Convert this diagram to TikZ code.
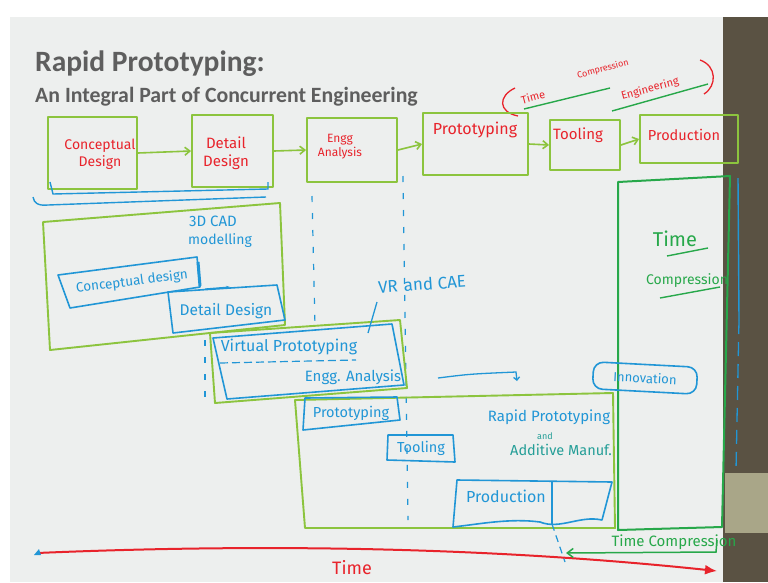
\documentclass[tikz,border=0pt]{standalone}
\usepackage{fontspec}
\setmainfont{Carlito}
\newfontfamily\hand{Fira Sans}
\usetikzlibrary{arrows.meta}

\definecolor{slidebg}{HTML}{EDEFEE}
\definecolor{titlegray}{HTML}{5E5E5E}
\definecolor{lgreen}{HTML}{8CC43E}
\definecolor{dgreen}{HTML}{27A84A}
\definecolor{pen}{HTML}{2196D6}
\definecolor{redpen}{HTML}{E8232B}
\definecolor{strip}{HTML}{5A5243}
\definecolor{stripl}{HTML}{A9A688}

\newcommand{\hs}[1]{\hand\fontsize{#1}{#1}\selectfont}

\tikzset{
  gbox/.style={draw=lgreen, line width=1.9pt, line join=round},
  dbox/.style={draw=dgreen, line width=2pt, line join=round},
  bbox/.style={draw=pen, line width=1.6pt, line join=round},
  garrow/.style={draw=lgreen, line width=1.6pt, -{Straight Barb[length=5pt,width=8pt]}},
  redtxt/.style={text=redpen, font=\hs{14}, inner sep=0pt, align=center},
  bluetxt/.style={text=pen, font=\hs{14}, inner sep=0pt, align=center},
  greentxt/.style={text=dgreen, font=\hs{14}, inner sep=0pt, align=center},
  guide/.style={draw=pen, line width=1.2pt, dash pattern=on 6pt off 11pt},
}

\begin{document}
\begin{tikzpicture}[x=1pt,y=-1pt]
\useasboundingbox (0,0) rectangle (768,582);
% screen background, slide and projector edge
\fill[white] (0,0) rectangle (768,582);
\fill[slidebg] (10,17) rectangle (723,582);
\fill[strip] (723,17) rectangle (768,582);
\fill[stripl] (725,473) rectangle (768,533);

% title block
\node[anchor=base west, inner sep=0pt, text=titlegray,
      font=\bfseries\fontsize{29.5}{32}\selectfont] (title) at (35,71) {Rapid Prototyping:};
\node[anchor=base west, inner sep=0pt, text=titlegray,
      font=\bfseries\fontsize{21.8}{24}\selectfont] (subtitle) at (35,102) {An Integral Part of Concurrent Engineering};

% handwritten remark next to the subtitle
\draw[redpen, line width=1.3pt] (515,88) .. controls (498,96) and (498,112) .. (518,116);
\node[redtxt, font=\hs{11}, rotate=15] (rm1) at (533,97) {Time};
\node[redtxt, font=\hs{9}, rotate=15] (rm2) at (603,69) {Compression};
\node[redtxt, font=\hs{11}, rotate=15] (rm3) at (650,89) {Engineering};
\draw[redpen, line width=1.3pt] (700,60) .. controls (717,66) and (717,86) .. (704,94);
\draw[dgreen, line width=1.4pt] (524,109) -- (610,88);
\draw[dgreen, line width=1.4pt] (612,111) -- (708,84);

% sequential process chain
\node[gbox, minimum width=89, minimum height=72] (cd) at (92.5,153) {};
\node[gbox, minimum width=81, minimum height=72] (dd) at (232.5,151) {};
\node[gbox, minimum width=90, minimum height=64] (ea) at (352,150) {};
\node[gbox, minimum width=105, minimum height=62] (pr) at (475.5,144) {};
\node[gbox, minimum width=70, minimum height=50] (to) at (585,145) {};
\node[gbox, minimum width=98, minimum height=48] (pd) at (689,139) {};
\draw[garrow] (cd.east) -- (dd.west);
\draw[garrow] (dd.east) -- (ea.west);
\draw[garrow] (ea.east) -- (pr.west);
\draw[garrow] (pr.east) -- (to.west);
\draw[garrow] (to.east) -- (pd.west);

\node[redtxt] (tcd) at (100,154) {Conceptual\\[3pt]Design};
\node[redtxt, font=\hs{15}] (tdd) at (226,153) {Detail\\[3pt]Design};
\node[redtxt, font=\hs{12}] (tea) at (340,147) {Engg\\[2pt]Analysis};
\node[redtxt, font=\hs{16}] (tpr) at (475,130) {Prototyping};
\node[redtxt, font=\hs{15}] (tto) at (578,135) {Tooling};
\node[redtxt, font=\hs{14.5}] (tpd) at (684,135) {Production};

% braces under the design steps
\draw[pen, line width=1.4pt] (50,182) -- (53,194) -- (268,189) -- (268,182);
\draw[pen, line width=1.4pt] (33,197) .. controls (34,203) and (38,206) .. (48,205) -- (266,197);

% time guides
\draw[guide] (312,196) -- (315,326);
\draw[guide] (205,340) -- (205,404);
\draw[guide] (403,176) -- (408,520);

% design phase
\draw[gbox] (43,222) -- (280,203) -- (285,325) -- (50,350) -- cycle;
\node[bluetxt, font=\hs{15}] (cad1) at (213,221) {3D CAD};
\node[bluetxt, font=\hs{14}] (cad2) at (220,241) {modelling};
\draw[bbox] (58,275) -- (197,257) -- (200,287) -- (70,308) -- cycle;
\draw[pen, line width=3pt] (198,262) -- (200,286);
\node[bluetxt, font=\hs{13.5}, rotate=7] (bcd) at (132,282) {Conceptual design};
\draw[bbox] (168,292) -- (277,285) -- (285,320) -- (173,333) -- cycle;
\node[bluetxt, font=\hs{15.5}] (bdd) at (226,311) {Detail Design};
\coordinate (sa0) at (205,289);
\coordinate (sa1) at (230,287);
\draw[pen, line width=1.2pt, -{Stealth[length=4pt]}] (sa0) -- (sa1);

% virtual prototyping phase
\draw[gbox] (210,333) -- (400,320) -- (407,388) -- (215,403) -- cycle;
\draw[bbox] (213,338) -- (392,324) -- (404,385) -- (227,399) -- cycle;
\node[bluetxt, font=\hs{16}] (vp) at (289,347) {Virtual Prototyping};
\draw[pen, line width=1.2pt, dash pattern=on 8pt off 4pt] (220,363) -- (356,360);
\node[bluetxt, font=\hs{15}] (vea) at (353,377) {Engg. Analysis};
\node[bluetxt, font=\hs{17}, rotate=4] (vr) at (422,284) {VR\hspace{6pt}and CAE};
\coordinate (vrl) at (377,302);
\coordinate (vrb) at (368,333);
\draw[pen, line width=1.3pt] (vrl) -- (vrb);
\coordinate (hk0) at (438,378);
\coordinate (hk1) at (516,372);
\draw[pen, line width=1.3pt, -{Straight Barb[length=3pt]}] (hk0) .. controls (470,374) .. (hk1) -- ++(1,9);

% physical prototyping phase
\draw[gbox] (295,400) -- (613,393) -- (615,528) -- (305,528) -- cycle;
\draw[bbox] (305,398) -- (397,397) -- (400,420) -- (303,430) -- cycle;
\node[bluetxt, font=\hs{14.5}] (bpr) at (351,413) {Prototyping};
\draw[bbox] (388,435) -- (453,435) -- (455,462) -- (387,460) -- cycle;
\node[bluetxt, font=\hs{14.5}] (bto) at (421,448) {Tooling};
\node[bluetxt, font=\hs{15}] (rp) at (549,417) {Rapid Prototyping};
\node[bluetxt, text=pen!55!dgreen, font=\hs{9}] (rpand) at (545,436) {and};
\node[bluetxt, text=pen!55!dgreen, font=\hs{14.5}] (am) at (561,450) {Additive Manuf.};
\draw[bbox] (457,480) -- (612,482) -- (602,520) .. controls (580,515) and (560,530) .. (540,522)
  .. controls (510,518) and (480,524) .. (453,527) -- cycle;
\draw[pen, line width=1.4pt] (552,481) -- (552,524);
\draw[pen, line width=1.2pt, dash pattern=on 7pt off 5pt] (552,524) -- (565,562);
\node[bluetxt, font=\hs{16}] (bpd) at (506,496) {Production};

% time compression
\draw[dbox] (618,182) -- (730,176) -- (722,527) -- (618,530) -- cycle;
\draw[pen, line width=1.4pt] (738,178) -- (739,320);
\draw[pen, line width=1.3pt, dash pattern=on 14pt off 8pt] (739,320) -- (736,470);
\node[greentxt, font=\hs{20}] (tc1) at (675,239) {Time};
\draw[dgreen, line width=1.4pt] (667,256) -- (708,248);
\node[greentxt, font=\hs{14}] (tc2) at (687,281) {Compression};
\draw[dgreen, line width=1.4pt] (660,298) -- (720,287);
\node[draw=pen, line width=1.6pt, rounded corners=10pt, minimum width=104, minimum height=27,
      inner sep=0pt, text=pen, font=\hs{13}, rotate=-3] (inn) at (645,378) {Innovation};

% time axis
\coordinate (t0) at (37,553);
\coordinate (t1) at (717,571);
\draw[redpen, line width=2pt, -{Latex[length=12pt,width=10pt]}] (t0) .. controls (250,544) and (480,546) .. (t1);
\fill[pen] (t0) ++(-3,2) -- ++(5,-6) -- ++(2,6) -- cycle;
\node[redtxt, font=\hs{18}] (taxis) at (352,568) {Time};

\coordinate (tcr) at (717,540);
\coordinate (tcl) at (566,553);
\draw[dgreen, line width=1.5pt, -{Straight Barb[length=6pt,width=9pt]}] (tcr) -- (716,552) -- (tcl);
\node[greentxt, font=\hs{15}] (tcb) at (674,542) {Time Compression};
\end{tikzpicture}
\end{document}
